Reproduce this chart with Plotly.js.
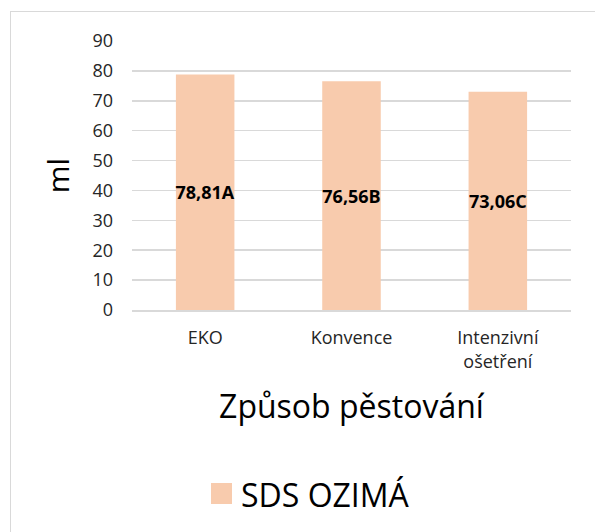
<!DOCTYPE html>
<html>
<head>
<meta charset="utf-8">
<script src="https://cdn.plot.ly/plotly-3.0.1.min.js"></script>
<style>
  html, body { margin: 0; padding: 0; background: #fff; }
  #wrap { position: relative; width: 595px; height: 532px; overflow: hidden; }
  #chart { position: absolute; left: 0; top: 0; width: 595px; height: 532px; }
  #frame { position: absolute; left: 10px; top: 11px; width: 600px; height: 540px;
           border-left: 1.5px solid #d9d9d9; border-top: 1.5px solid #d9d9d9; pointer-events: none; }
</style>
</head>
<body>
<div id="wrap">
  <div id="chart"></div>
  <div id="frame"></div>
</div>
<script>
const categories = ['EKO', 'Konvence', 'Intenzivní<br>ošetření'];
const values = [78.81, 76.56, 73.06];
const valueLabels = ['78,81A', '76,56B', '73,06C'];
const seriesName = 'SDS OZIMÁ';
const yTicks = [0, 10, 20, 30, 40, 50, 60, 70, 80, 90];
const xTitle = 'Způsob pěstování';
const yTitle = 'ml';

const barColor = '#F8CBAD';
const fontFam = '"Open Sans", "DejaVu Sans", sans-serif';

const data = [{
  type: 'bar',
  x: categories,
  y: values,
  name: seriesName,
  marker: { color: barColor },
  text: valueLabels,
  textposition: 'inside',
  insidetextanchor: 'middle',
  textangle: 0,
  constraintext: 'none',
  textfont: { family: fontFam, size: 18, color: '#000', weight: 'bold' },
  showlegend: false,
  hoverinfo: 'skip'
}];

const layout = {
  width: 595,
  height: 532,
  margin: { l: 132, r: 24, t: 41, b: 222, pad: 0 },
  paper_bgcolor: '#fff',
  plot_bgcolor: '#fff',
  bargap: 0.6,
  showlegend: false,
  font: { family: fontFam, color: '#404040' },
  xaxis: {
    type: 'category',
    showgrid: false,
    showline: true,
    linecolor: '#d9d9d9',
    linewidth: 1.5,
    ticks: '',
    tickfont: { family: fontFam, size: 18, color: '#262626' },
    ticklabelstandoff: 11,
    title: { text: xTitle, font: { family: fontFam, size: 32, color: '#000' }, standoff: 24 },
    fixedrange: true
  },
  yaxis: {
    range: [0, 90],
    tickvals: yTicks,
    showgrid: true,
    gridcolor: '#d9d9d9',
    gridwidth: 1.5,
    zeroline: false,
    showline: false,
    ticks: '',
    tickfont: { family: fontFam, size: 18, color: '#262626' },
    ticklabelstandoff: 18,
    title: { text: yTitle, font: { family: fontFam, size: 30, color: '#000' }, standoff: 13 },
    fixedrange: true
  },
  shapes: [{
    type: 'rect', xref: 'paper', yref: 'paper',
    x0: (211 - 132) / 439, x1: (232 - 132) / 439,
    y0: (310 - 504) / 269, y1: (310 - 483) / 269,
    fillcolor: barColor, line: { width: 0 }
  }],
  annotations: [{
    xref: 'paper', yref: 'paper',
    x: (239 - 132) / 439, y: (310 - 494) / 269,
    xanchor: 'left', yanchor: 'middle',
    text: seriesName, showarrow: false,
    font: { family: fontFam, size: 32, color: '#000' }
  }]
};

Plotly.newPlot('chart', data, layout, { displayModeBar: false, staticPlot: true });
</script>
</body>
</html>
